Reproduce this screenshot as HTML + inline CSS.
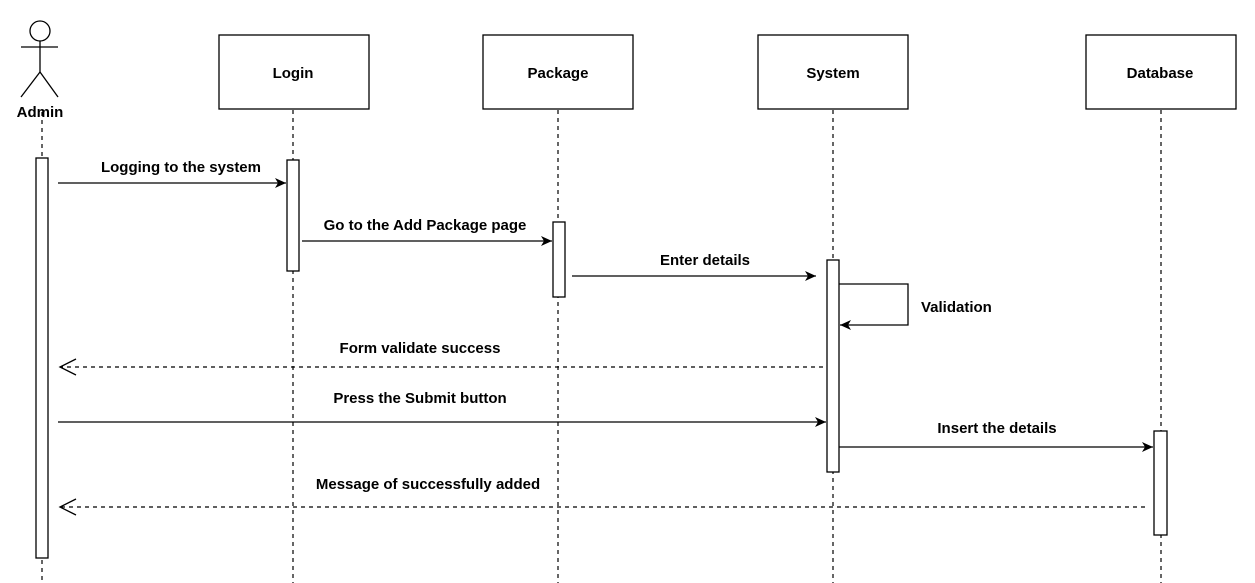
<!DOCTYPE html>
<html><head><meta charset="utf-8"><style>
html,body{margin:0;padding:0;background:#fff;}
svg{display:block;}
text{font-family:"Liberation Sans",sans-serif;font-weight:bold;font-size:15px;fill:#000;}
</style></head><body>
<svg width="1255" height="583" viewBox="0 0 1255 583" xmlns="http://www.w3.org/2000/svg">
<defs>
<marker id="a" markerWidth="12" markerHeight="10" refX="11" refY="5" orient="auto" markerUnits="userSpaceOnUse">
<path d="M0,0 L11,5 L0,10 L3,5 Z" fill="#000"/></marker>
</defs>
<g stroke="#000" fill="none" stroke-width="1.3">
<circle cx="40" cy="31" r="10"/>
<line x1="40" y1="41" x2="40" y2="72"/>
<line x1="21" y1="47" x2="58" y2="47"/>
<line x1="40" y1="72" x2="21" y2="97"/>
<line x1="40" y1="72" x2="58" y2="97"/>
<g stroke-dasharray="4,4" stroke-width="1.2">
<line x1="42" y1="112" x2="42" y2="583"/>
<line x1="293" y1="110" x2="293" y2="583"/>
<line x1="558" y1="110" x2="558" y2="583"/>
<line x1="833" y1="110" x2="833" y2="583"/>
<line x1="1161" y1="110" x2="1161" y2="583"/>
</g>
<rect x="219" y="35" width="150" height="74" fill="#fff"/>
<rect x="483" y="35" width="150" height="74" fill="#fff"/>
<rect x="758" y="35" width="150" height="74" fill="#fff"/>
<rect x="1086" y="35" width="150" height="74" fill="#fff"/>
<rect x="36" y="158" width="12" height="400" fill="#fff"/>
<rect x="287" y="160" width="12" height="111" fill="#fff"/>
<rect x="553" y="222" width="12" height="75" fill="#fff"/>
<rect x="827" y="260" width="12" height="212" fill="#fff"/>
<rect x="1154" y="431" width="13" height="104" fill="#fff"/>
<line x1="58" y1="183" x2="286" y2="183" marker-end="url(#a)"/>
<line x1="302" y1="241" x2="552" y2="241" marker-end="url(#a)"/>
<line x1="572" y1="276" x2="816" y2="276" marker-end="url(#a)"/>
<polyline points="839,284 908,284 908,325 840,325" marker-end="url(#a)"/>
<line x1="823" y1="367" x2="60" y2="367" stroke-dasharray="4,4"/>
<polyline points="76,359 60,367 76,375"/>
<line x1="58" y1="422" x2="826" y2="422" marker-end="url(#a)"/>
<line x1="839" y1="447" x2="1153" y2="447" marker-end="url(#a)"/>
<line x1="1145" y1="507" x2="60" y2="507" stroke-dasharray="4,4"/>
<polyline points="76,499 60,507 76,515"/>
</g>
<text x="40" y="117" text-anchor="middle">Admin</text>
<text x="293" y="78" text-anchor="middle">Login</text>
<text x="558" y="78" text-anchor="middle">Package</text>
<text x="833" y="78" text-anchor="middle">System</text>
<text x="1160" y="78" text-anchor="middle">Database</text>
<text x="181" y="172" text-anchor="middle">Logging to the system</text>
<text x="425" y="230" text-anchor="middle">Go to the Add Package page</text>
<text x="705" y="265" text-anchor="middle">Enter details</text>
<text x="921" y="312">Validation</text>
<text x="420" y="353" text-anchor="middle">Form validate success</text>
<text x="420" y="403" text-anchor="middle">Press the Submit button</text>
<text x="997" y="433" text-anchor="middle">Insert the details</text>
<text x="428" y="489" text-anchor="middle">Message of successfully added</text>
</svg>
</body></html>
